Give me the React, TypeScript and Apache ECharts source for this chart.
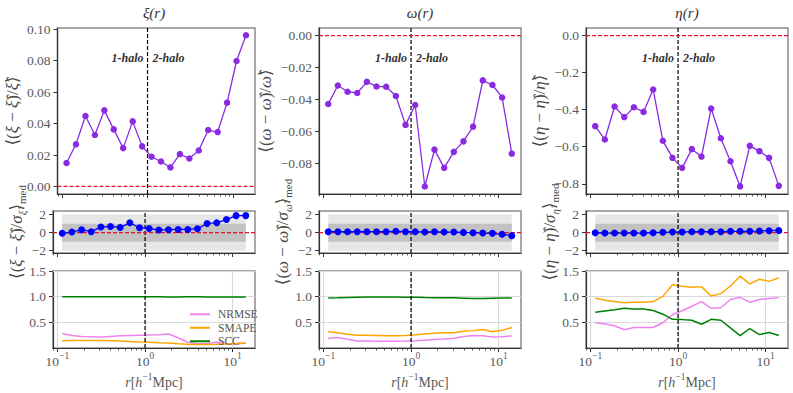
import React, { useEffect, useRef } from "react";
import * as echarts from "echarts";

// ---------- data ----------
const r = [0.1135, 0.1462, 0.1887, 0.2432, 0.3133, 0.4036, 0.52, 0.671, 0.865, 1.114, 1.436, 1.85, 2.385, 3.074, 3.96, 5.1, 6.58, 8.48, 10.93, 14.09];

const xiRel = [0.0149, 0.0268, 0.0448, 0.0327, 0.0484, 0.0363, 0.0244, 0.0414, 0.0255, 0.0189, 0.0159, 0.0121, 0.0206, 0.0178, 0.0229, 0.0359, 0.0346, 0.0533, 0.0798, 0.0962];
const omegaRel = [-0.0429, -0.0313, -0.0352, -0.036, -0.029, -0.0319, -0.0321, -0.0379, -0.056, -0.0435, -0.0946, -0.0715, -0.0829, -0.0729, -0.0663, -0.0571, -0.0281, -0.031, -0.0388, -0.074];
const etaRel = [-0.489, -0.561, -0.383, -0.44, -0.387, -0.412, -0.291, -0.568, -0.66, -0.714, -0.613, -0.653, -0.394, -0.554, -0.678, -0.814, -0.595, -0.624, -0.66, -0.811];

const xiSig = [-0.07, 0.07, 0.33, 0.11, 0.62, 0.69, 0.58, 1.09, 0.55, 0.47, 0.29, 0.33, 0.36, 0.36, 0.44, 1.02, 1.09, 1.45, 1.89, 1.89];
const omegaSig = [0.1, 0.1, 0.1, 0.1, 0.1, 0.1, 0.1, 0.15, 0.1, 0.1, 0.07, 0.1, 0.07, 0.07, 0.03, 0, -0.04, -0.07, -0.18, -0.33];
const etaSig = [0, -0.04, -0.04, -0.04, -0.04, -0.04, 0, 0.04, 0.07, 0.07, 0.11, 0.11, 0.11, 0.11, 0.15, 0.15, 0.15, 0.18, 0.22, 0.25];

const xiNRMSE = [0.286, 0.244, 0.226, 0.22, 0.214, 0.226, 0.238, 0.244, 0.25, 0.256, 0.262, 0.274, 0.2, 0.113, 0.083, 0.083, 0.12, 0.09, 0.083, 0.095];
const xiSMAPE = [0.143, 0.148, 0.15, 0.15, 0.148, 0.143, 0.136, 0.128, 0.12, 0.113, 0.105, 0.1, 0.085, 0.075, 0.071, 0.071, 0.075, 0.08, 0.088, 0.1];
const xiSCC = [0.998, 0.998, 0.997, 0.998, 0.998, 0.997, 0.998, 0.998, 0.998, 0.997, 0.997, 0.996, 0.996, 0.997, 0.997, 0.996, 0.996, 0.996, 0.995, 0.995];

const omegaNRMSE = [0.19, 0.205, 0.17, 0.14, 0.138, 0.135, 0.133, 0.133, 0.138, 0.145, 0.155, 0.165, 0.175, 0.19, 0.225, 0.245, 0.24, 0.215, 0.22, 0.24];
const omegaSMAPE = [0.32, 0.3, 0.27, 0.25, 0.25, 0.245, 0.24, 0.24, 0.245, 0.26, 0.275, 0.29, 0.3, 0.3, 0.33, 0.34, 0.36, 0.32, 0.345, 0.4];
const omegaSCC = [0.976, 0.98, 0.985, 0.99, 0.995, 0.995, 0.995, 0.993, 0.99, 0.99, 0.985, 0.982, 0.98, 0.978, 0.972, 0.965, 0.965, 0.972, 0.975, 0.976];

const etaNRMSE = [0.5, 0.47, 0.435, 0.357, 0.4, 0.4, 0.4, 0.494, 0.649, 0.726, 0.815, 0.905, 0.774, 0.786, 0.946, 0.988, 0.893, 0.946, 0.964, 0.982];
const etaSMAPE = [0.976, 0.929, 0.905, 0.881, 0.893, 0.893, 0.905, 1.006, 1.232, 1.202, 1.185, 1.196, 1.012, 1.06, 1.208, 1.399, 1.25, 1.34, 1.298, 1.369];
const etaSCC = [0.696, 0.72, 0.744, 0.774, 0.762, 0.762, 0.732, 0.66, 0.56, 0.554, 0.542, 0.464, 0.56, 0.542, 0.393, 0.244, 0.381, 0.262, 0.304, 0.244];

const xMajorTicks = [0.1, 1, 10];
const xMinorTicks = [0.09, 0.2, 0.3, 0.4, 0.5, 0.6, 0.7, 0.8, 0.9, 2, 3, 4, 5, 6, 7, 8, 9];
const xiTicks = [0, 0.02, 0.04, 0.06, 0.08, 0.1];
const omegaTicks = [0, -0.02, -0.04, -0.06, -0.08];
const etaTicks = [0, -0.2, -0.4, -0.6, -0.8];
const sigTicks = [-2, 0, 2];
const metricTicks = [0.5, 1.0, 1.5];
const metricNames = ["NRMSE", "SMAPE", "SCC"];
const titles = ["ξ(r)", "ω(r)", "η(r)"];

// ---------- layout / style ----------
const FONT = "'Liberation Serif', 'DejaVu Serif', serif";
const XMIN = 0.0891;
const XMAX = 17.95;
const COL_LEFT = [53, 319, 586];
const COL_W = 202;
const ROWS = [
  { top: 28, height: 166 },
  { top: 211, height: 42 },
  { top: 271, height: 83 },
];
const DARK = "#333";
const TICK_COLOR = "#5a5a5a";
const NAME_COLOR = "#4a4a4a";
const PURPLE = "#8a2be2";
const BLUE = "#0000ff";
const RED = "#e8102e";
const METRIC_COLORS = ["#ee82ee", "#ffa500", "#008000"];

const H = "\u0302";

const cols = [
  {
    sym: "ξ",
    rel: xiRel, relTicks: xiTicks, relMin: -0.0048, relMax: 0.1008, dec: 2,
    sig: xiSig, metrics: [xiNRMSE, xiSMAPE, xiSCC],
    gapTop: 25, gapMid: 26,
  },
  {
    sym: "ω",
    rel: omegaRel, relTicks: omegaTicks, relMin: -0.0993, relMax: 0.00473, dec: 2,
    sig: omegaSig, metrics: [omegaNRMSE, omegaSMAPE, omegaSCC],
    gapTop: 35, gapMid: 21,
  },
  {
    sym: "η",
    rel: etaRel, relTicks: etaTicks, relMin: -0.855, relMax: 0.0407, dec: 1,
    sig: etaSig, metrics: [etaNRMSE, etaSMAPE, etaSCC],
    gapTop: 31, gapMid: 22,
  },
];

const fmtNum = (d: number) => (v: number) => {
  const s = Math.abs(v).toFixed(d);
  return v < -1e-12 ? "−" + s : s;
};
const fmtLog = (v: number) => {
  const e = Math.round(Math.log10(v));
  return `10{sup|${e < 0 ? "−" + -e : e}}`;
};

const NAME_FS = 17;
const nameRich = {
  i: { fontStyle: "italic", fontSize: NAME_FS, fontFamily: FONT, color: NAME_COLOR, lineHeight: 22 },
  sub: { fontSize: 11, fontFamily: FONT, color: NAME_COLOR, lineHeight: 10, verticalAlign: "bottom" },
  si: { fontSize: 11, fontStyle: "italic", fontFamily: FONT, color: NAME_COLOR, lineHeight: 10, verticalAlign: "bottom" },
};

function vLine(idx: number, yMin: number, yMax: number, z: number) {
  return {
    type: "line", xAxisIndex: idx, yAxisIndex: idx, z,
    data: [[1, yMin], [1, yMax]],
    showSymbol: false, symbol: "none", silent: true,
    lineStyle: { color: "#000", type: [4, 2], width: 1.2 },
  };
}
function zeroLine(idx: number) {
  return {
    type: "line", xAxisIndex: idx, yAxisIndex: idx, z: 10,
    data: [[XMIN, 0], [XMAX, 0]],
    showSymbol: false, symbol: "none", silent: true,
    lineStyle: { color: RED, type: [4, 2], width: 1.2 },
  };
}

function buildOption() {
  const grid: any[] = [];
  const xAxis: any[] = [];
  const xAxisMinor: any[] = [];
  const yAxis: any[] = [];
  const series: any[] = [];
  const graphic: any[] = [];

  for (let row = 0; row < 3; row++) {
    for (let c = 0; c < 3; c++) {
      const idx = row * 3 + c;
      const col = cols[c];
      grid.push({
        left: COL_LEFT[c], top: ROWS[row].top, width: COL_W, height: ROWS[row].height,
        show: true, borderColor: "#8c8c8c", borderWidth: 1.5, backgroundColor: "transparent",
      });
      const isBottom = row === 2;
      xAxis.push({
        type: "log", gridIndex: idx, min: XMIN, max: XMAX, position: "bottom",
        axisLine: { show: true, onZero: false, lineStyle: { color: DARK, width: 1.2 } },
        axisTick: { show: true, customValues: xMajorTicks, length: 4, lineStyle: { color: DARK, width: 1 } },
        axisLabel: {
          show: isBottom, customValues: xMajorTicks, formatter: fmtLog, margin: 3,
          fontFamily: FONT, fontSize: 13.5, color: TICK_COLOR, lineHeight: 20,
          rich: { sup: { fontSize: 9.5, lineHeight: 10, verticalAlign: "top", fontFamily: FONT, color: TICK_COLOR } },
        },
        splitLine: { show: false },
        name: isBottom ? "{i|r}[{i|h}{sup|−1}Mpc]" : "",
        nameLocation: "middle", nameGap: 17,
        nameTextStyle: {
          fontFamily: FONT, fontSize: 14, color: TICK_COLOR, lineHeight: 20,
          rich: {
            i: { fontStyle: "italic", fontFamily: FONT, fontSize: 14, color: TICK_COLOR, lineHeight: 20 },
            sup: { fontSize: 9.5, lineHeight: 10, verticalAlign: "top", fontFamily: FONT, color: TICK_COLOR },
          },
        },
      });
      xAxisMinor.push({
        type: "log", gridIndex: idx, min: XMIN, max: XMAX, position: "bottom",
        axisLine: { show: false, onZero: false },
        axisTick: { show: true, customValues: xMinorTicks, length: 2.5, lineStyle: { color: DARK, width: 0.8 } },
        axisLabel: { show: false },
        splitLine: { show: false },
      });

      let yMin = 0, yMax = 1, ticks: number[] = [], dec = 1, name = "", gap = 20;
      if (row === 0) {
        yMin = col.relMin; yMax = col.relMax; ticks = col.relTicks; dec = col.dec;
        name = `⟨({i|${col.sym}} − {i|${col.sym}${H}})/{i|${col.sym}${H}}⟩`;
        gap = col.gapTop;
      } else if (row === 1) {
        yMin = -2.25; yMax = 2.4; ticks = sigTicks; dec = 0;
        name = `⟨({i|${col.sym}} − {i|${col.sym}${H}})/{i|σ}{si|${col.sym}${H}}⟩{sub|med}`;
        gap = col.gapMid;
      } else {
        yMin = 0; yMax = 1.5; ticks = metricTicks; dec = 1; name = ""; gap = 20;
      }
      yAxis.push({
        type: "value", gridIndex: idx, min: yMin, max: yMax,
        axisLine: { show: true, onZero: false, lineStyle: { color: DARK, width: 1.2 } },
        axisTick: { show: true, customValues: ticks, length: 4, lineStyle: { color: DARK, width: 1 } },
        axisLabel: {
          show: true, customValues: ticks, formatter: fmtNum(dec), margin: 7,
          fontFamily: FONT, fontSize: 13.5, color: TICK_COLOR,
        },
        splitLine: { show: false },
        name, nameLocation: "middle", nameGap: gap, nameRotate: 90,
        nameTextStyle: { fontFamily: FONT, fontSize: NAME_FS, color: NAME_COLOR, lineHeight: 22, rich: nameRich },
      });

      if (row === 0) {
        const yLab = yMax - 0.18 * (yMax - yMin);
        const haloLabel = {
          show: true, fontFamily: FONT, fontStyle: "italic", fontWeight: "bold", fontSize: 12, color: "#333",
        };
        series.push(vLine(idx, yMin, yMax, 2));
        series.push({
          type: "line", xAxisIndex: idx, yAxisIndex: idx,
          data: r.map((x, i) => [x, col.rel[i]]),
          symbol: "circle", symbolSize: 6.5, showSymbol: true,
          lineStyle: { color: PURPLE, width: 1.3 }, itemStyle: { color: PURPLE },
          z: 3,
          markPoint: {
            silent: true, symbol: "circle", symbolSize: 0,
            data: [
              { coord: [1, yLab], label: { ...haloLabel, formatter: "1-halo", position: "left", distance: 4 } },
              { coord: [1, yLab], label: { ...haloLabel, formatter: "2-halo", position: "right", distance: 5 } },
            ],
          },
        });
        series.push(zeroLine(idx));
      } else if (row === 1) {
        series.push({
          type: "line", xAxisIndex: idx, yAxisIndex: idx, data: [], z: 1,
          markArea: {
            silent: true, z: 1,
            data: [
              [{ xAxis: r[0], yAxis: -2, itemStyle: { color: "#e6e6e6" } }, { xAxis: r[r.length - 1], yAxis: 2 }],
              [{ xAxis: r[0], yAxis: -1, itemStyle: { color: "#c2c2c2" } }, { xAxis: r[r.length - 1], yAxis: 1 }],
            ],
          },
        });
        series.push(vLine(idx, yMin, yMax, 2));
        series.push({ ...zeroLine(idx), z: 2 });
        series.push({
          type: "line", xAxisIndex: idx, yAxisIndex: idx,
          data: r.map((x, i) => [x, col.sig[i]]),
          symbol: "circle", symbolSize: 7, showSymbol: true,
          lineStyle: { color: BLUE, width: 1.3 }, itemStyle: { color: BLUE },
          z: 3,
        });
      } else {
        // grid lines
        series.push({
          type: "line", xAxisIndex: idx, yAxisIndex: idx, data: [], z: 1,
          markLine: {
            silent: true, z: 1, symbol: ["none", "none"], label: { show: false },
            lineStyle: { color: "#d9d9d9", type: "solid", width: 1.2 },
            data: [
              ...xMajorTicks.map((v) => ({ xAxis: v })),
              ...metricTicks.map((v) => ({ yAxis: v })),
            ],
          },
        });
        col.metrics.forEach((m, k) => {
          series.push({
            name: metricNames[k], type: "line", xAxisIndex: idx, yAxisIndex: idx,
            data: r.map((x, i) => [x, m[i]]),
            showSymbol: false, symbol: "none",
            lineStyle: { color: METRIC_COLORS[k], width: 1.5 }, itemStyle: { color: METRIC_COLORS[k] },
            z: 3,
          });
        });
        series.push(vLine(idx, yMin, yMax, 4));
      }
    }
  }

  titles.forEach((t, c) => {
    graphic.push({
      type: "text", x: COL_LEFT[c] + COL_W / 2, y: 13,
      style: {
        text: t, textAlign: "center", textVerticalAlign: "middle",
        fontFamily: FONT, fontStyle: "italic", fontSize: 15, fill: "#333",
      },
    });
  });

  return {
    animation: false,
    backgroundColor: "#fff",
    grid,
    xAxis: [...xAxis, ...xAxisMinor],
    yAxis,
    series,
    graphic,
    legend: {
      data: metricNames, orient: "vertical", left: 185, top: 303,
      icon: "rect", itemWidth: 20, itemHeight: 2, itemGap: 1, selectedMode: false,
      textStyle: { fontFamily: FONT, fontSize: 11.5, color: "#555", lineHeight: 12.5, padding: [0, 0, 0, 3] },
    },
  };
}

export default function App() {
  const ref = useRef<HTMLDivElement>(null);
  useEffect(() => {
    if (!ref.current) return;
    const chart = echarts.init(ref.current, undefined, { renderer: "svg" });
    chart.setOption(buildOption() as any);
    return () => chart.dispose();
  }, []);
  return (
    <div
      ref={ref}
      style={{ position: "fixed", left: 0, top: 0, width: 793, height: 393, background: "#fff" }}
    />
  );
}
